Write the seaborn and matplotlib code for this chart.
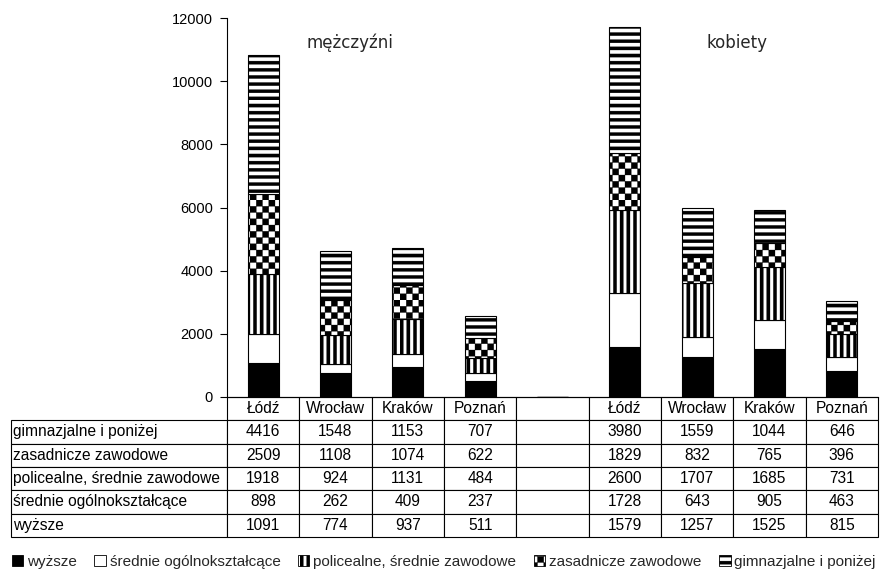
import warnings
warnings.filterwarnings('ignore')
import numpy as np
import pandas as pd
import matplotlib
matplotlib.use('Agg')
import matplotlib.pyplot as plt
import matplotlib.hatch as mhatch
from matplotlib.path import Path
from matplotlib.patches import Patch
import seaborn as sns

# ---------------- data ----------------
cities = ['Łódź', 'Wrocław', 'Kraków', 'Poznań']
group_titles = ['mężczyźni', 'kobiety']
slot_labels = cities + [''] + cities

series_names = ['wyższe', 'średnie ogólnokształcące', 'policealne, średnie zawodowe',
                'zasadnicze zawodowe', 'gimnazjalne i poniżej']

wyzsze_m = [1091, 774, 937, 511]
wyzsze_k = [1579, 1257, 1525, 815]
srednie_ogol_m = [898, 262, 409, 237]
srednie_ogol_k = [1728, 643, 905, 463]
policealne_m = [1918, 924, 1131, 484]
policealne_k = [2600, 1707, 1685, 731]
zasadnicze_m = [2509, 1108, 1074, 622]
zasadnicze_k = [1829, 832, 765, 396]
gimnazjalne_m = [4416, 1548, 1153, 707]
gimnazjalne_k = [3980, 1559, 1044, 646]

y_ticks = [0, 2000, 4000, 6000, 8000, 10000, 12000]

# ---------------- custom hatch patterns ----------------
class RectHatch(mhatch.HatchPatternBase):
    def __init__(self, hatch, density):
        rects = []
        hatch = hatch or ''
        if 'H' in hatch:  # horizontal stripes
            n, t = 14, 0.45
            for i in range(n):
                rects.append((-0.05, i / n, 1.1, t / n))
        if 'V' in hatch:  # vertical stripes
            n, t = 15, 0.5
            for i in range(n):
                rects.append((i / n, -0.05, t / n, 1.1))
        if 'C' in hatch:  # checkerboard
            n = 16
            for i in range(n):
                for j in range(n):
                    if (i + j) % 2 == 0:
                        rects.append((i / n, j / n, 1 / n, 1 / n))
        self.rects = rects
        self.num_vertices = 5 * len(rects)

    def set_vertices_and_codes(self, vertices, codes):
        for k, (x, y, w, h) in enumerate(self.rects):
            vertices[5 * k:5 * k + 5] = [(x, y), (x + w, y), (x + w, y + h), (x, y + h), (x, y)]
            codes[5 * k:5 * k + 5] = [Path.MOVETO, Path.LINETO, Path.LINETO, Path.LINETO, Path.CLOSEPOLY]

mhatch._hatch_types.append(RectHatch)

# ---------------- style ----------------
sns.set_theme(style='white')
plt.rcParams['font.family'] = ['Liberation Sans', 'DejaVu Sans']
plt.rcParams['hatch.linewidth'] = 0.2
plt.rcParams['hatch.color'] = 'black'

faces = ['black', 'white', 'white', 'white', 'white']
hatches = [None, None, 'V', 'C', 'H']

m_series = [wyzsze_m, srednie_ogol_m, policealne_m, zasadnicze_m, gimnazjalne_m]
k_series = [wyzsze_k, srednie_ogol_k, policealne_k, zasadnicze_k, gimnazjalne_k]

slot_keys = [f'M {c}' for c in cities] + ['gap'] + [f'K {c}' for c in cities]

fig = plt.figure(figsize=(8.82, 5.77), dpi=100)
ax = fig.add_axes([227 / 882, 1 - 397 / 577, 651 / 882, 379 / 577])

bottom = np.zeros(len(slot_keys))
for name, mv, kv, face, hatch in zip(series_names, m_series, k_series, faces, hatches):
    vals = np.array(list(mv) + [0] + list(kv), dtype=float)
    df = pd.DataFrame({'slot': slot_keys, 'value': vals})
    sns.barplot(data=df, x='slot', y='value', order=slot_keys, color=face,
                edgecolor='black', linewidth=0.8, width=0.43, saturation=1,
                errorbar=None, bottom=bottom.copy(), hatch=hatch, ax=ax)
    bottom += vals

ax.set_ylim(0, 12000)
ax.set_xlim(-0.5, len(slot_keys) - 0.5)
ax.set_yticks(y_ticks)
ax.set_yticklabels([str(t) for t in y_ticks], fontsize=10.5)
ax.set_xticks([])
ax.set_xlabel('')
ax.set_ylabel('')
ax.tick_params(axis='y', left=True, length=5, width=0.8, color='black', pad=5, labelcolor='black')
for s in ['top', 'right']:
    ax.spines[s].set_visible(False)
for s in ['left', 'bottom']:
    ax.spines[s].set_color('black')
    ax.spines[s].set_linewidth(0.8)

ax.text(0.189, 0.934, group_titles[0], transform=ax.transAxes, ha='center', va='center', fontsize=12,
        family=['DejaVu Sans'])
ax.text(0.783, 0.934, group_titles[1], transform=ax.transAxes, ha='center', va='center', fontsize=12,
        family=['DejaVu Sans'])

# ---------------- table ----------------
table_rows = []
for mv, kv in zip(m_series[::-1], k_series[::-1]):
    table_rows.append([str(v) for v in mv] + [''] + [str(v) for v in kv])
row_labels = series_names[::-1]

tbl = ax.table(cellText=table_rows, rowLabels=row_labels, colLabels=slot_labels,
               colWidths=[1 / 9] * 9,
               cellLoc='center', rowLoc='left', colLoc='center',
               bbox=[0, -0.369, 1, 0.369])
tbl._autoColumns = []
tbl.auto_set_font_size(False)
tbl.set_fontsize(11.2)
for (r, c), cell in tbl.get_celld().items():
    cell.set_edgecolor('black')
    cell.set_linewidth(0.8)
    cell.get_text().set_color('black')
    if c == -1:
        cell.set_width(0.332)
        cell.PAD = 0.01

# ---------------- legend ----------------
handles = [Patch(facecolor=f, edgecolor='black', hatch=h, linewidth=0.6, label=n)
           for n, f, h in zip(series_names, faces, hatches)]
fig.legend(handles=handles, loc='center', bbox_to_anchor=(0.503, 1 - 562 / 577), ncol=5,
           frameon=False, fontsize=11, handlelength=0.75, handleheight=0.75,
           handletextpad=0.25, columnspacing=1.15, borderaxespad=0)

fig.savefig('out.png', dpi=100)
